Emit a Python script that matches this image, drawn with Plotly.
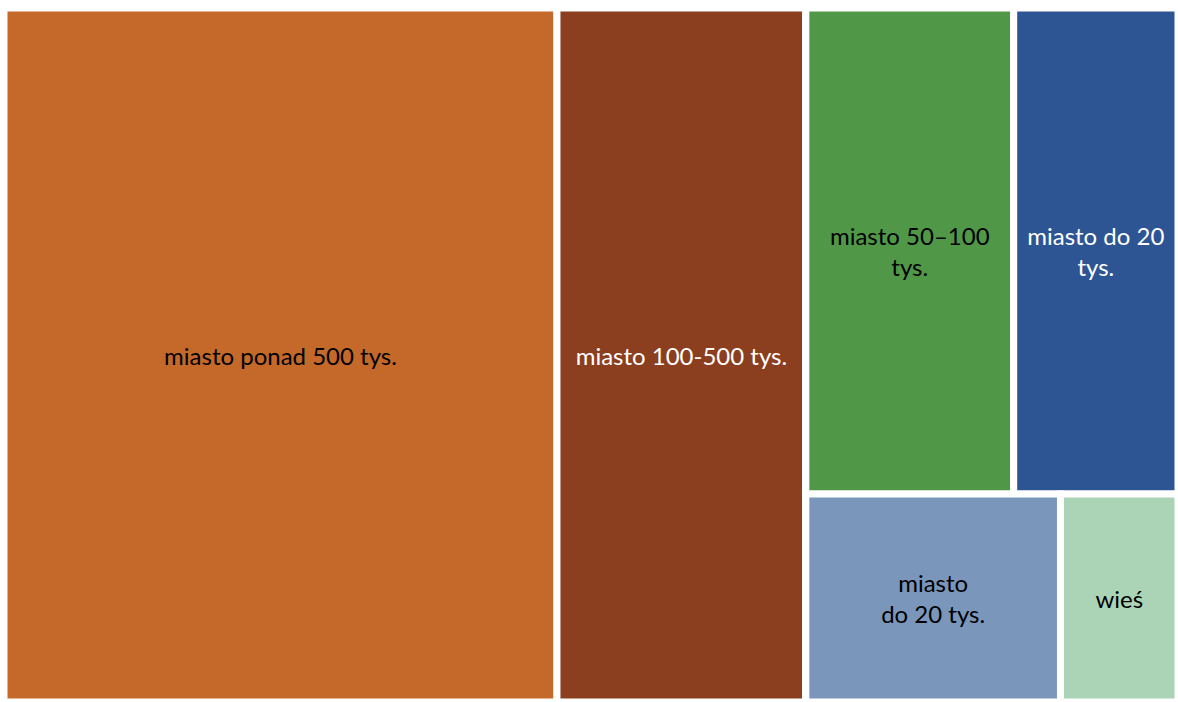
import plotly.graph_objects as go

# Share of respondents by place of residence (percent)
categories = [
    "miasto ponad 500 tys.",
    "miasto 100-500 tys.",
    "miasto 50–100<br>tys.",
    "miasto do 20<br>tys.",
    "miasto<br>do 20 tys.",
    "wieś",
]
shares = [47.1, 21.2, 12.4, 9.8, 6.5, 3.0]
colors = ["#C5692A", "#8B3F1F", "#509848", "#2E5593", "#7A96BB", "#ABD4B6"]
text_colors = ["#000000", "#FFFFFF", "#000000", "#FFFFFF", "#000000", "#000000"]

# Hidden grouping nodes arrange the small tiles into two rows
# (slice-dice alternates horizontal / vertical splits by depth).
top_val = shares[2] + shares[3]
bottom_val = shares[4] + shares[5]
rest_val = top_val + bottom_val
total = shares[0] + shares[1] + rest_val

ids = ["all", "c0", "c1", "rest", "top", "bottom", "c2", "c3", "c4", "c5"]
parents = ["", "all", "all", "all", "rest", "rest", "top", "top", "bottom", "bottom"]
values = [total, shares[0], shares[1], rest_val, top_val, bottom_val,
          shares[2], shares[3], shares[4], shares[5]]
texts = ["", categories[0], categories[1], "", "", "",
         categories[2], categories[3], categories[4], categories[5]]
fills = ["#FFFFFF", colors[0], colors[1], "#FFFFFF", "#FFFFFF", "#FFFFFF",
         colors[2], colors[3], colors[4], colors[5]]
tcolors = ["#FFFFFF", text_colors[0], text_colors[1], "#FFFFFF", "#FFFFFF", "#FFFFFF",
           text_colors[2], text_colors[3], text_colors[4], text_colors[5]]

fig = go.Figure(
    go.Treemap(
        ids=ids,
        labels=ids,
        parents=parents,
        values=values,
        text=texts,
        texttemplate="%{text}",
        textposition="middle center",
        textfont=dict(family="Lato, Open Sans, sans-serif", size=24, color=tcolors),
        branchvalues="total",
        sort=False,
        tiling=dict(packing="slice-dice", pad=0),
        marker=dict(
            colors=fills,
            line=dict(color="#FFFFFF", width=7),
            pad=dict(t=0, l=0, r=0, b=0),
        ),
        pathbar=dict(visible=False),
        root=dict(color="#FFFFFF"),
        hoverinfo="skip",
    )
)

fig.update_layout(
    margin=dict(l=4, r=0, t=8, b=0),
    paper_bgcolor="#FFFFFF",
    showlegend=False,
)

fig.write_html("out.html")
